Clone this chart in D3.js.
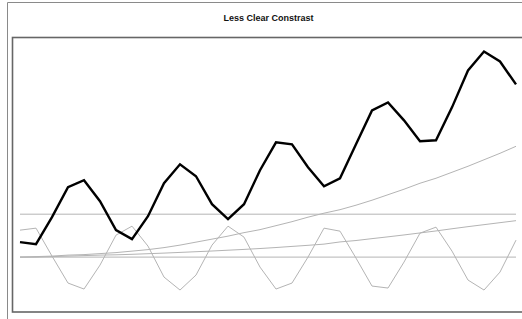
<!DOCTYPE html>
<html>
<head>
<meta charset="utf-8">
<script src="https://cdn.jsdelivr.net/npm/d3@7"></script>
<style>
  html, body { margin: 0; padding: 0; background: #fff; }
  svg { display: block; }
</style>
</head>
<body>
<svg id="chart" width="522" height="319"></svg>
<script>
// chart values (no axes shown, units are arbitrary)
var periods = d3.range(1, 33);
var observed = [15, 13, 40, 70, 77, 56, 27, 18, 41, 74, 93, 81, 53, 38, 53, 87,
  115, 113, 90, 71, 79, 113, 147, 155, 137, 116, 117, 150, 187, 206, 196, 173];
var seasonal = [27, 29, 1, -26, -32, -8, 22, 31, 11, -20, -33, -18, 12, 31, 20, -10,
  -32, -26, 0, 29, 26, -1, -29, -31, -5, 24, 30, 6, -23, -33, -15, 17];
var growth = [0, 0.5, 1, 2, 2.5, 3.5, 4.5, 6, 7.5, 9.5, 12, 15, 18, 21, 24.5, 27.5,
  31.5, 35.5, 40, 44, 47.5, 52, 57, 62.5, 68, 74, 79, 85, 91, 97.5, 104, 111];
var trend = [0, 0, 0.5, 1, 1.5, 2, 2.3, 2.8, 3.4, 4, 4.7, 5.4, 6.1, 6.9, 7.7, 8.6,
  9.6, 10.7, 11.8, 13, 15.2, 16.6, 18.5, 20.3, 22.2, 24.2, 26.2, 28.4, 30.5, 32.5, 34.5, 36.5];
var level = periods.map(function() { return 43; });
var baseline = periods.map(function() { return 0; });
var titleText = 'Less Clear Constrast';

var svg = d3.select('#chart');
var W = 522, H = 319;
var plot = { left: 12.5, top: 37.5, right: 530, bottom: 312 };

var x = d3.scalePoint().domain(periods).range([20, 516]);
var y = d3.scaleLinear().domain([-55, 220]).range([plot.bottom, plot.top]);

// outer frame (only top and left visible)
svg.append('path')
  .attr('d', 'M7.5,' + H + 'V2.5H' + W)
  .attr('fill', 'none')
  .attr('stroke', '#8a8a8a')
  .attr('stroke-width', 1);

svg.append('text')
  .attr('x', 268.5)
  .attr('y', 21)
  .attr('text-anchor', 'middle')
  .attr('font-family', 'Liberation Sans, Arial, sans-serif')
  .attr('font-weight', 'bold')
  .attr('font-size', '9px')
  .attr('fill', '#111')
  .text(titleText);

svg.append('rect')
  .attr('x', plot.left)
  .attr('y', plot.top)
  .attr('width', plot.right - plot.left)
  .attr('height', plot.bottom - plot.top)
  .attr('fill', '#fff')
  .attr('stroke', '#666')
  .attr('stroke-width', 1.6);

function lineOf(vals) {
  return d3.line()
    .x(function(d, i) { return x(periods[i]); })
    .y(function(d) { return y(d); })(vals);
}

var grayLines = [baseline, level, trend, growth, seasonal];
grayLines.forEach(function(vals) {
  svg.append('path')
    .attr('d', lineOf(vals))
    .attr('fill', 'none')
    .attr('stroke', '#b4b4b4')
    .attr('stroke-width', 1);
});

svg.append('path')
  .attr('d', lineOf(observed))
  .attr('fill', 'none')
  .attr('stroke', '#000')
  .attr('stroke-width', 2.4)
  .attr('stroke-linejoin', 'miter');
</script>
</body>
</html>
